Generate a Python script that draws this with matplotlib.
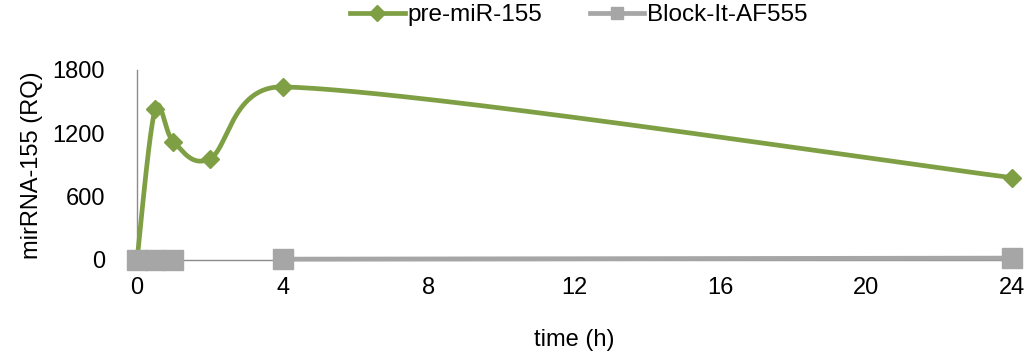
import numpy as np
import matplotlib.pyplot as plt
from matplotlib.lines import Line2D

plt.rcParams['font.family'] = ['Liberation Sans', 'DejaVu Sans']

# time points (h) and measured relative quantities
t_pre = [0, 0.5, 1, 2, 4, 24]
rq_pre = [0, 1430, 1120, 960, 1640, 780]

t_block = [0, 0.5, 1, 4, 24]
rq_block = [0, 2, 3, 8, 18]

x_ticks = [0, 4, 8, 12, 16, 20, 24]
y_ticks = [0, 600, 1200, 1800]

green = '#7F9F45'
grey = '#A6A6A6'


def smooth(ax, xs, ys, n=60):
    # Bezier smoothing in screen space; control arms follow the neighbours
    # but are kept short on short segments so the curve never doubles back
    p = ax.transData.transform(np.column_stack([xs, ys]).astype(float))
    out = [p[:1]]
    for i in range(len(p) - 1):
        p0 = p[i - 1] if i > 0 else p[i]
        p1, p2 = p[i], p[i + 1]
        p3 = p[i + 2] if i + 2 < len(p) else p[i + 1]
        seg_len = np.linalg.norm(p2 - p1)
        a = p2 - p0
        b = p3 - p1
        la = min(np.linalg.norm(a) / 6, 0.5 * seg_len)
        lb = min(np.linalg.norm(b) / 6, 0.5 * seg_len)
        c1 = p1 + a / np.linalg.norm(a) * la
        c2 = p2 - b / np.linalg.norm(b) * lb
        s = np.linspace(0, 1, n)[1:, None]
        seg = ((1 - s) ** 3 * p1 + 3 * (1 - s) ** 2 * s * c1
               + 3 * (1 - s) * s ** 2 * c2 + s ** 3 * p2)
        out.append(seg)
    pts = ax.transData.inverted().transform(np.vstack(out))
    return pts[:, 0], pts[:, 1]


fig = plt.figure(figsize=(10.28, 3.57), dpi=100)
ax = fig.add_axes([137 / 1028, 1 - 260 / 357, 875 / 1028, 190 / 357])
ax.set_xlim(0, 24)
ax.set_ylim(0, 1800)

gx, gy = smooth(ax, t_pre, rq_pre)
ax.plot(gx, gy, color=green, lw=3.4, clip_on=False, zorder=3)
ax.plot(t_pre, rq_pre, ls='none', marker='D', ms=9.5, color=green,
        clip_on=False, zorder=4)

# grey series has no value at 2 h, so its line breaks between 1 h and 4 h
bx, by = smooth(ax, t_block[:3], rq_block[:3])
ax.plot(bx, by, color=grey, lw=3.4, solid_capstyle='butt', clip_on=False, zorder=5)
bx, by = smooth(ax, t_block[3:], rq_block[3:])
ax.plot(bx, by, color=grey, lw=3.4, solid_capstyle='butt', clip_on=False, zorder=5)
ax.plot(t_block, rq_block, ls='none', marker='s', ms=14, color=grey,
        clip_on=False, zorder=6)

ax.set_xticks(x_ticks)
ax.set_yticks(y_ticks)
ax.tick_params(length=0, labelsize=17, colors='black')
ax.tick_params(axis='x', pad=12)
ax.tick_params(axis='y', pad=23)
for side in ['top', 'right']:
    ax.spines[side].set_visible(False)
for side in ['left', 'bottom']:
    ax.spines[side].set_color('#8C8C8C')
    ax.spines[side].set_linewidth(1)

ax.set_xlabel('time (h)', fontsize=17, labelpad=22)
ax.set_ylabel('mirRNA-155 (RQ)', fontsize=17, labelpad=7)

handles = [
    Line2D([], [], color=green, lw=3.4, marker='D', ms=8),
    Line2D([], [], color=grey, lw=3.4, marker='s', ms=9),
]
fig.legend(handles, ['pre-miR-155', 'Block-It-AF555'], loc='center left',
           bbox_to_anchor=(350 / 1028, 1 - 15 / 357), ncol=2, frameon=False,
           fontsize=17.5, borderpad=0, borderaxespad=0,
           handlelength=2.25, columnspacing=1.95, handletextpad=0.12)

fig.savefig('out.png', dpi=100)
